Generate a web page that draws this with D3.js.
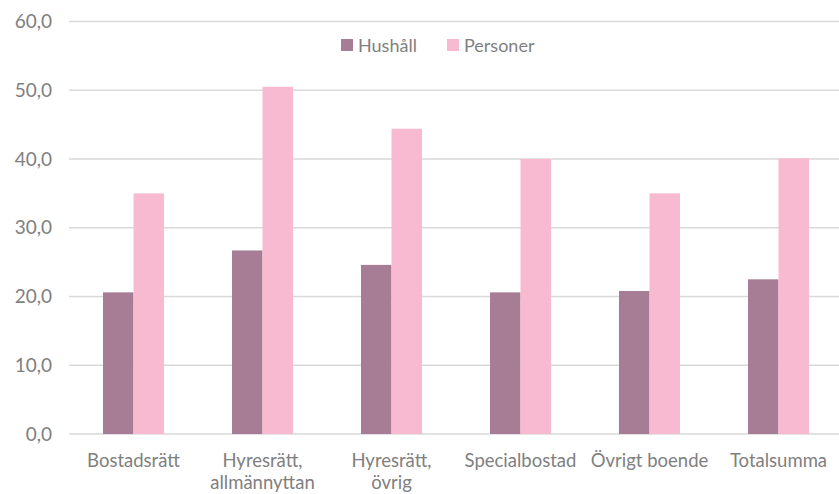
<!DOCTYPE html>
<html>
<head>
<meta charset="utf-8">
<script src="https://cdn.jsdelivr.net/npm/d3@7"></script>
<style>
  body { margin: 0; background: #fff; }
  text { font-family: Lato, "Open Sans", sans-serif; fill: #808080; }
</style>
</head>
<body>
<svg></svg>
<script>
var categories = [["Bostadsrätt"], ["Hyresrätt,", "allmännyttan"], ["Hyresrätt,", "övrig"], ["Specialbostad"], ["Övrigt boende"], ["Totalsumma"]];
var seriesNames = ["Hushåll", "Personer"];
var hushall = [20.6, 26.7, 24.6, 20.6, 20.8, 22.5];
var personer = [35.0, 50.5, 44.4, 40.0, 35.0, 40.1];
var yTicks = [0, 10, 20, 30, 40, 50, 60];
var colors = ["#a67d94", "#f7bad0"];

var screen = { width: 839, height: 494 };
var svg = d3.select('svg')
            .attr('width', screen.width)
            .attr('height', screen.height);

var margins = { top: 21.5, left: 69, right: -4, bottom: 60 };
var width = screen.width - margins.left - margins.right;
var height = 434 - margins.top;

var xscale = d3.scaleBand()
               .domain(d3.range(categories.length))
               .range([0, width])
               .paddingInner(0.527)
               .paddingOuter(0.2635);
var inner = d3.scaleBand()
              .domain(seriesNames)
              .range([0, xscale.bandwidth()]);
var yscale = d3.scaleLinear()
               .domain([0, 60])
               .range([height, 0]);

var plot = svg.append('g')
              .attr('transform', 'translate(' + margins.left + ',' + margins.top + ')');

// gridlines
plot.selectAll('.grid')
    .data(yTicks)
    .enter()
    .append('line')
    .attr('x1', 0)
    .attr('x2', width)
    .attr('y1', function(d) { return yscale(d); })
    .attr('y2', function(d) { return yscale(d); })
    .attr('stroke', '#d9d9d9')
    .attr('stroke-width', 1.5);

// y labels
var yAxis = d3.axisLeft(yscale)
              .tickValues(yTicks)
              .tickSize(0)
              .tickPadding(17)
              .tickFormat(function(d) { return d3.format('.1f')(d).replace('.', ','); });
var ya = plot.append('g').call(yAxis);
ya.select('.domain').remove();
ya.selectAll('text')
  .style('font-size', '19px')
  .style('fill', '#808080')
  .style('font-family', 'Lato, sans-serif');

// bars
var data = [hushall, personer];
data.forEach(function(values, s)
{
  plot.selectAll('.bar' + s)
      .data(values)
      .enter()
      .append('rect')
      .attr('x', function(d, i) { return xscale(i) + inner(seriesNames[s]); })
      .attr('y', function(d) { return yscale(d); })
      .attr('width', inner.bandwidth())
      .attr('height', function(d) { return height - yscale(d); })
      .attr('fill', colors[s]);
});

// category labels
var labels = plot.selectAll('.cat')
    .data(categories)
    .enter()
    .append('text')
    .attr('text-anchor', 'middle')
    .attr('x', function(d, i) { return xscale(i) + xscale.bandwidth() / 2; })
    .attr('y', height + 33)
    .style('font-size', '18.5px');
labels.selectAll('tspan')
    .data(function(d) { return d; })
    .enter()
    .append('tspan')
    .attr('x', function() { return d3.select(this.parentNode).attr('x'); })
    .attr('dy', function(d, i) { return i == 0 ? 0 : 22; })
    .text(function(d) { return d; });

// legend
var legendX = [341, 447];
var legend = svg.selectAll('.legend')
    .data(seriesNames)
    .enter()
    .append('g')
    .attr('transform', function(d, i) { return 'translate(' + legendX[i] + ',39)'; });
legend.append('rect')
      .attr('width', 12)
      .attr('height', 12)
      .attr('fill', function(d, i) { return colors[i]; });
legend.append('text')
      .attr('x', 17)
      .attr('y', 12.5)
      .style('font-size', '18px')
      .text(function(d) { return d; });
</script>
</body>
</html>
